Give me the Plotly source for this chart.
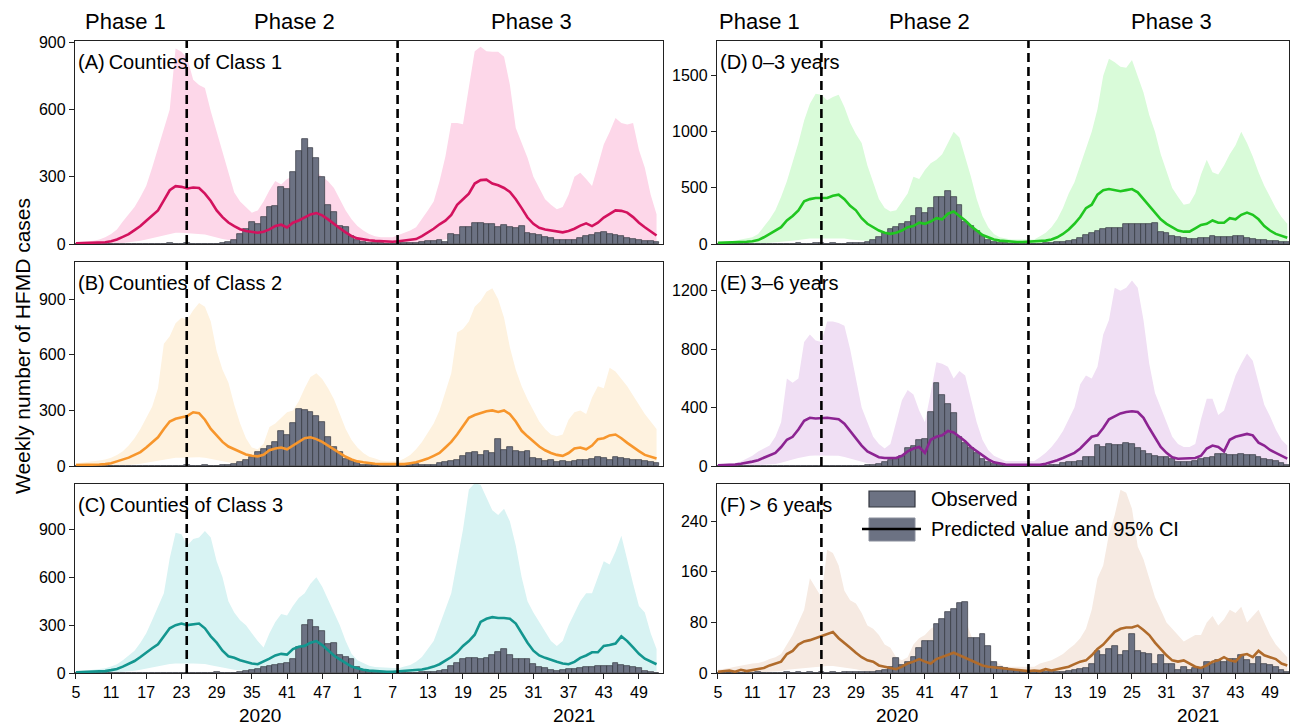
import plotly.graph_objects as go

# ---------------- data ----------------
# index 0 = 2020 week 5 ... index 47 = 2020 week 52, index 48 = 2021 week 1 ... index 99 = 2021 week 52
weeks_2020 = list(range(5, 53))
weeks_2021 = list(range(1, 53))
week_labels = [str(w) for w in weeks_2020] + [str(w) for w in weeks_2021]
idx = list(range(len(week_labels)))
tick_vals = list(range(0, 97, 6))
tick_text = [week_labels[i] for i in tick_vals]

# Panel A: Counties of Class 1
obs_A = [1,1,0,1,0,1,1,2,1,1, 2,1,2,1,2,2,3,2,2,3, 2,2,1,2,2,5,10,20,45,65,
         100,90,120,165,170,255,245,320,415,470, 430,385,300,175,145,80,75,35,20,10,
         6,4,3,2,2,3,5,4,6,8, 12,15,20,10,45,40,75,75,95,92,
         90,88,75,85,78,72,80,50,45,40, 30,25,20,18,18,20,28,35,42,50,
         52,45,40,35,28,22,18,15,12,8]
pred_A = [3,4,5,5,6,8,12,20,32,44, 62,80,104,125,150,195,240,258,255,248,
          252,250,225,192,150,120,96,80,66,58, 55,50,55,65,80,86,74,95,105,118,
          132,138,128,110,89,70,52,35,25,20, 17,14,12,10,10,12,15,18,22,35,
          50,68,88,104,130,175,200,225,270,285, 287,270,262,250,232,200,160,118,90,72,
          65,60,55,52,58,68,82,92,80,95, 118,135,150,148,140,120,95,75,55,38]
upper_A = [8,10,12,15,20,30,45,65,100,130, 165,210,260,340,430,518,600,873,858,829,
           733,710,696,592,503,414,330,230,190,163, 140,150,190,240,281,265,290,300,310,320,
           330,320,300,280,250,200,150,110,80,60, 45,35,30,30,30,40,50,60,75,110,
           150,190,280,390,540,540,535,700,860,880, 860,858,858,836,710,518,450,385,300,250,
           200,175,155,165,220,300,318,290,259,350, 444,500,562,540,533,540,420,340,220,133]
lower_A = [0,0,0,0,1,1,2,3,5,7, 10,14,20,26,32,40,45,50,50,48,
           48,47,42,36,28,22,18,14,12,10, 9,9,10,12,15,16,14,18,20,22,
           25,26,24,20,16,12,9,6,4,3, 3,2,2,2,2,2,3,3,4,6,
           9,12,16,20,25,33,38,42,50,52, 53,50,48,46,43,37,30,22,16,13,
           12,11,10,10,11,12,15,17,15,18, 22,25,28,27,26,22,18,14,10,7]

# Panel B: Counties of Class 2
obs_B = [1,1,1,1,1,1,1,1,1,1, 1,1,2,1,2,1,2,2,2,3, 2,2,3,2,2,3,5,12,20,35,
         50,75,90,110,130,190,165,230,310,300, 290,272,240,156,102,75,40,25,15,8,
         5,3,3,2,2,2,3,5,10,8, 5,8,15,20,25,35,55,70,75,60,
         80,70,145,85,100,80,75,80,45,40, 25,30,20,25,20,25,30,35,40,50,
         45,35,50,45,40,35,30,25,20,15]
pred_B = [5,5,6,7,8,10,15,25,35,45, 60,75,100,130,155,200,240,255,262,270,
          290,285,250,200,165,130,105,90,75,62, 55,52,60,85,95,100,90,110,130,150,
          155,145,130,110,90,70,50,35,25,20, 15,12,10,9,8,8,10,15,20,30,
          40,55,70,100,130,170,215,260,275,285, 295,300,292,300,280,240,190,160,130,105,
          85,70,60,55,70,95,100,90,110,145, 150,165,170,150,125,100,80,60,50,40]
upper_B = [15,18,22,26,30,35,45,60,80,110, 150,200,260,320,420,660,700,770,800,790,
           840,880,860,780,620,520,450,330,230,150, 100,90,120,210,230,260,290,300,350,420,
           480,500,470,420,360,280,200,140,100,70, 50,40,30,25,25,25,40,60,90,130,
           180,230,300,400,500,720,740,780,860,890, 940,960,900,800,640,520,430,360,300,240,
           200,170,160,170,250,290,300,280,370,430, 420,530,510,470,430,380,330,280,240,200]
lower_B = [0,0,0,0,1,1,2,3,4,6, 8,12,18,24,30,36,40,44,45,46,
           48,47,44,38,30,24,18,14,11,9, 8,8,9,12,14,15,14,16,19,22,
           23,22,20,17,14,11,8,5,4,3, 2,2,2,1,1,1,2,2,3,5,
           7,9,12,16,21,27,34,40,43,45, 46,47,46,47,44,38,30,25,20,16,
           13,11,9,9,11,15,16,14,17,22, 23,25,26,23,19,16,12,9,8,6]

# Panel C: Counties of Class 3
obs_C = [1,1,1,1,1,1,1,1,1,1, 1,1,1,2,1,1,2,1,2,1, 1,2,2,3,5,3,2,3,8,12,
         20,25,40,45,50,55,65,90,165,300, 335,290,265,180,190,115,100,90,35,15,
         8,5,3,2,2,2,2,2,3,4, 5,8,15,20,45,60,85,95,95,90,
         95,110,130,150,115,90,85,90,55,40, 30,20,15,20,25,25,30,35,40,42,
         42,45,60,48,45,35,30,15,5,3]
pred_C = [5,6,7,8,10,12,18,25,40,55, 75,100,130,155,180,230,280,300,310,300,
          305,310,280,230,190,140,105,95,80,70, 60,55,70,90,110,120,115,150,165,170,
          190,200,175,140,110,85,60,40,30,20, 15,12,10,8,8,10,12,15,18,22,
          30,40,55,75,100,130,170,200,240,320, 340,350,345,345,340,310,250,190,140,110,
          95,80,70,60,55,70,95,110,130,130, 170,175,185,230,200,160,120,90,70,55]
upper_C = [10,12,15,20,25,30,40,55,80,110, 140,190,250,330,420,500,720,880,870,800,
           840,850,890,850,700,600,450,380,330,300, 250,200,160,250,320,370,360,420,470,500,
           560,600,540,460,380,300,200,120,80,60, 45,38,35,32,30,30,40,50,70,100,
           150,200,300,400,500,700,900,1150,1190,1180, 1100,1020,990,1030,950,800,600,450,380,320,
           260,200,170,200,300,380,450,500,500,600, 700,680,760,860,700,560,420,380,250,150]
lower_C = [0,0,0,1,1,2,3,5,7,10, 14,20,28,35,42,50,56,60,62,60,
           60,60,56,48,40,32,24,20,16,13, 11,10,12,15,18,20,19,24,26,27,
           30,32,28,22,18,14,10,7,5,3, 2,2,2,1,1,1,2,2,3,4,
           5,7,10,13,18,24,30,36,42,55, 58,60,60,60,58,54,44,34,26,20,
           17,14,12,11,10,12,16,19,22,22, 28,30,32,38,34,28,21,16,12,10]

# Panel D: 0-3 years
obs_D = [2,2,2,2,3,2,3,2,3,3, 3,4,3,4,5,4,4,5,5,4, 5,4,4,5,6,8,20,40,65,100,
         130,150,175,195,250,320,280,320,420,420, 470,420,350,200,160,115,70,40,20,10,
         5,3,3,3,3,3,4,5,8,15, 20,30,40,50,80,100,120,130,140,145,
         145,175,180,175,180,175,190,110,100,70, 60,50,45,45,55,50,70,60,65,60,
         70,70,55,45,40,35,30,25,20,15]
pred_D = [10,11,12,15,18,20,25,35,60,90, 120,150,210,250,300,380,400,410,410,410,
          430,440,400,340,300,230,180,150,120,100, 90,100,120,150,160,190,180,200,230,220,
          270,290,250,210,160,120,80,60,40,30, 25,20,18,18,20,22,25,30,40,60,
          90,130,180,240,320,350,440,480,490,480, 470,480,490,460,400,330,270,220,180,150,
          120,110,110,140,170,180,210,190,190,230, 220,260,280,260,220,160,120,90,70,55]
upper_D = [15,18,22,30,40,50,60,90,150,220, 300,420,560,720,900,1100,1250,1340,1330,1280,
           1310,1330,1220,1080,980,900,700,550,400,320, 290,300,380,450,600,580,660,720,750,800,
           900,1000,950,780,600,400,250,150,90,60, 50,40,40,40,40,40,70,100,150,220,
           320,450,550,700,850,1000,1200,1500,1650,1620, 1580,1570,1640,1500,1350,1150,1000,800,650,500,
           420,350,360,450,620,750,640,620,700,800, 880,1000,900,780,640,520,420,320,240,180]
lower_D = [0,0,1,1,2,2,3,4,7,10, 14,18,25,30,36,45,48,50,50,50,
           52,53,48,40,36,28,22,18,14,12, 11,12,14,18,19,23,22,24,28,27,
           32,35,30,25,19,14,10,7,5,4, 3,2,2,2,2,3,3,4,5,7,
           11,16,22,29,38,42,53,58,59,58, 56,58,59,55,48,40,32,26,22,18,
           14,13,13,17,20,22,25,23,23,28, 26,31,34,31,26,19,14,11,8,7]

# Panel E: 3-6 years
obs_E = [2,2,2,2,2,2,2,2,2,2, 2,2,2,3,2,2,3,2,2,3, 2,2,2,2,3,3,5,8,15,25,
         40,50,70,120,140,175,185,370,570,485, 425,360,200,156,120,87,50,30,15,8,
         4,3,3,2,2,2,2,3,5,10, 20,25,30,35,60,65,145,130,150,145,
         145,160,150,120,100,80,70,65,60,45, 30,25,30,35,45,55,65,80,80,75,
         75,80,75,75,65,50,40,35,20,10]
pred_E = [5,6,8,10,15,20,30,40,55,70, 90,130,180,200,250,310,330,325,330,330,
          325,320,290,240,190,140,100,80,60,55, 55,55,70,100,120,130,90,180,200,210,
          240,230,200,170,130,100,70,45,25,15, 10,8,8,8,8,8,8,15,25,40,
          55,70,90,120,160,200,210,260,320,340, 360,370,375,370,330,260,190,130,90,60,
          50,50,55,55,70,120,140,130,100,180, 200,210,220,210,160,140,110,90,70,50]
upper_E = [10,14,18,20,30,50,70,100,120,140, 200,300,600,570,600,850,900,860,850,990,
           990,980,960,800,600,400,300,200,150,120, 150,300,450,520,490,380,300,500,710,700,
           680,600,650,620,450,300,180,110,70,50, 35,35,35,35,35,35,60,90,130,180,
           240,320,400,560,620,600,680,900,1000,1220, 1200,1220,1270,1220,1000,700,500,400,300,200,
           150,130,130,150,320,460,460,350,380,500, 620,700,770,720,560,420,340,250,180,140]
lower_E = [0,0,1,1,2,3,4,6,8,10, 14,22,35,45,55,65,70,72,72,72,
           70,70,62,50,38,26,18,14,10,9, 9,9,12,17,20,22,15,30,34,36,
           40,38,33,28,22,17,12,8,4,3, 2,2,2,2,2,2,2,3,4,7,
           10,13,17,22,30,38,40,50,60,65, 68,70,72,70,62,48,35,24,16,11,
           9,9,10,10,13,22,26,24,18,32, 36,38,40,38,29,25,20,16,12,9]

# Panel F: > 6 years
obs_F = [0,0,0,0,0,0,0,1,0,0, 0,0,1,0,1,0,1,0,2,0, 1,0,1,2,1,2,1,2,3,5,
         10,24,12,18,25,40,50,50,78,85, 96,102,110,112,55,55,61,42,18,10,
         8,5,3,2,1,1,1,1,1,2, 2,3,5,6,8,15,35,28,38,42,
         28,35,62,35,32,30,15,28,15,15, 5,10,5,8,8,18,15,20,18,22,
         22,28,20,15,25,15,12,10,5,2]
pred_F = [2,3,4,2,5,3,5,6,8,12, 15,18,30,35,45,50,52,55,58,62,
          65,55,48,40,32,25,20,18,12,10, 8,6,10,15,18,22,18,15,22,25,
          28,32,28,24,20,15,12,10,9,8, 6,5,4,3,3,4,3,6,4,6,
          8,10,14,18,20,28,38,45,55,65, 70,72,72,75,68,60,48,38,28,20,
          18,20,15,10,8,12,18,20,25,20, 18,28,30,25,35,28,25,22,15,12]
upper_F = [5,6,8,10,12,14,15,16,18,22, 25,30,45,60,80,100,150,135,120,195,
           190,170,130,115,110,95,75,70,60,45, 40,25,20,25,45,55,60,70,75,80,
           85,100,90,85,60,40,30,22,18,15, 10,10,10,10,10,10,15,18,20,25,
           30,38,45,55,70,100,150,170,220,250, 290,285,260,200,180,150,120,100,80,70,
           60,50,55,60,60,80,90,75,85,100, 95,105,80,90,100,80,60,45,35,25]
lower_F = [0,0,0,0,1,0,1,1,1,2, 2,3,5,6,7,8,9,10,10,11,
           11,10,8,7,6,4,3,3,2,2, 1,1,2,3,3,4,3,3,4,4,
           5,5,5,4,3,3,2,2,1,1, 1,1,1,0,0,1,0,1,1,1,
           1,2,2,3,3,5,6,8,9,11, 12,12,12,13,12,10,8,6,5,3,
           3,3,2,2,1,2,3,3,4,3, 3,5,5,4,6,5,4,4,3,2]

panel_letters = ["(A)", "(B)", "(C)", "(D)", "(E)", "(F)"]
panel_titles = ["Counties of Class 1", "Counties of Class 2", "Counties of Class 3",
                "0\u20133 years", "3\u20136 years", "> 6 years"]
y_ticks = [[0, 300, 600, 900], [0, 300, 600, 900], [0, 300, 600, 900],
           [0, 500, 1000, 1500], [0, 400, 800, 1200], [0, 80, 160, 240]]
y_max = [906, 1101, 1185, 1809, 1397, 299]
phase_names = ["Phase 1", "Phase 2", "Phase 3"]
year_names = ["2020", "2021"]

# ---------------- styling ----------------
W, H = 1290, 726
FONT = "Liberation Sans, Arial, Helvetica, sans-serif"
line_colors = ["#d3125e", "#f7962c", "#13968f", "#20c620", "#8c2492", "#b06b2b"]
fill_colors = ["#fdd7e9", "#fef2df", "#d8f3f3", "#d9fbd9", "#f0dff4", "#f6eae2"]
bar_color = "#6c7283"
bar_edge = "#33363f"

col_px = [(75, 663), (717, 1289)]
row_px = [(41, 244), (262, 466), (484, 673)]
x_ranges = [[-0.15, 100.1], [-0.15, 99.3]]
dash_pos = [[18.9, 54.85], [18.0, 54.0]]
phase_x = [[8.5, 37.2, 77.7], [7.3, 36.8, 78.9]]
year_x = [[31.4, 85.0], [31.2, 83.5]]

def px_x(p):
    return p / W

def px_y(p):
    return 1 - p / H

series = [
    (obs_A, pred_A, upper_A, lower_A),
    (obs_B, pred_B, upper_B, lower_B),
    (obs_C, pred_C, upper_C, lower_C),
    (obs_D, pred_D, upper_D, lower_D),
    (obs_E, pred_E, upper_E, lower_E),
    (obs_F, pred_F, upper_F, lower_F),
]

fig = go.Figure()
layout = dict(width=W, height=H, margin=dict(l=0, r=0, t=0, b=0, pad=0, autoexpand=False),
              paper_bgcolor="white", plot_bgcolor="white", showlegend=False,
              bargap=0, font=dict(family=FONT, size=16, color="black"))
shapes = []
annotations = []

for k in range(6):
    col = k // 3
    row = k % 3
    n = k + 1
    no = n + 6  # overlay y axis for bars and line (drawn above the CI band)
    xa = "x" if n == 1 else f"x{n}"
    ya = "y" if n == 1 else f"y{n}"
    yo = f"y{no}"
    obs, pred, up, lo = series[k]

    fig.add_trace(go.Scatter(x=idx, y=lo, mode="lines", line=dict(width=0, color=fill_colors[k]),
                             xaxis=xa, yaxis=ya, hoverinfo="skip"))
    fig.add_trace(go.Scatter(x=idx, y=up, mode="lines", line=dict(width=0, color=fill_colors[k]),
                             fill="tonexty", fillcolor=fill_colors[k], xaxis=xa, yaxis=ya, hoverinfo="skip"))
    fig.add_trace(go.Bar(x=idx, y=obs, width=1, marker=dict(color=bar_color, line=dict(color=bar_edge, width=0.7)),
                         xaxis=xa, yaxis=yo))
    fig.add_trace(go.Scatter(x=idx, y=pred, mode="lines", line=dict(width=2.6, color=line_colors[k]),
                             xaxis=xa, yaxis=yo))

    x0, x1 = col_px[col]
    y0, y1 = row_px[row]
    xkey = "xaxis" if n == 1 else f"xaxis{n}"
    ykey = "yaxis" if n == 1 else f"yaxis{n}"
    bottom = row == 2
    layout[xkey] = dict(domain=[px_x(x0), px_x(x1)], anchor=ya, range=x_ranges[col],
                        showgrid=False, zeroline=False, showline=True, mirror=True,
                        linecolor="#222222", linewidth=1.3, automargin=False,
                        tickmode="array", tickvals=tick_vals, ticktext=tick_text,
                        ticks="outside" if bottom else "", ticklen=5, tickcolor="#222222",
                        showticklabels=bottom, tickfont=dict(size=16, family=FONT))
    layout[ykey] = dict(domain=[px_y(y1), px_y(y0)], anchor=xa, range=[0, y_max[k]],
                        showgrid=False, zeroline=False, showline=True, mirror=True,
                        linecolor="#222222", linewidth=1.3, automargin=False,
                        tickmode="array", tickvals=y_ticks[k], ticks="outside", ticklen=5,
                        tickcolor="#222222", tickfont=dict(size=16, family=FONT))
    layout[f"yaxis{no}"] = dict(overlaying=ya, anchor=xa, range=[0, y_max[k]], visible=False,
                                showgrid=False, zeroline=False, automargin=False)

    for d in dash_pos[col]:
        shapes.append(dict(type="line", xref=xa, yref=f"{ya} domain", x0=d, x1=d, y0=0, y1=1,
                           line=dict(color="black", width=2.6, dash="9px,5px"), layer="above"))

    annotations.append(dict(x=px_x(x0 + 1), y=px_y(y0 + 21), xref="paper", yref="paper",
                            text=f"{panel_letters[k]}\u2009{panel_titles[k]}", showarrow=False,
                            xanchor="left", yanchor="middle", font=dict(size=20, family=FONT)))

    if row == 0:
        for name, px in zip(phase_names, phase_x[col]):
            annotations.append(dict(x=px, y=px_y(22), xref=xa, yref="paper", text=name,
                                    showarrow=False, xanchor="center", yanchor="middle",
                                    font=dict(size=22, family=FONT)))
    if bottom:
        for name, px in zip(year_names, year_x[col]):
            annotations.append(dict(x=px, y=px_y(715), xref=xa, yref="paper", text=name,
                                    showarrow=False, xanchor="center", yanchor="middle",
                                    font=dict(size=19, family=FONT)))

# y-axis title
annotations.append(dict(x=px_x(22), y=px_y(346), xref="paper", yref="paper",
                        text="Weekly number of HFMD cases", textangle=-90, showarrow=False,
                        xanchor="center", yanchor="middle", font=dict(size=21, family=FONT)))

# legend inside panel F
shapes.append(dict(type="rect", xref="paper", yref="paper", x0=px_x(869), x1=px_x(915),
                   y0=px_y(507), y1=px_y(491), fillcolor=bar_color, line=dict(color=bar_edge, width=1.2),
                   layer="above"))
shapes.append(dict(type="rect", xref="paper", yref="paper", x0=px_x(869), x1=px_x(915),
                   y0=px_y(541), y1=px_y(518), fillcolor=bar_color, line=dict(color="#8a8f9c", width=1),
                   layer="above"))
shapes.append(dict(type="line", xref="paper", yref="paper", x0=px_x(862), x1=px_x(921),
                   y0=px_y(529), y1=px_y(529), line=dict(color="black", width=2.6), layer="above"))
annotations.append(dict(x=px_x(929), y=px_y(499), xref="paper", yref="paper", text="Observed",
                        showarrow=False, xanchor="left", yanchor="middle", font=dict(size=20, family=FONT)))
annotations.append(dict(x=px_x(929), y=px_y(529), xref="paper", yref="paper",
                        text="Predicted value and 95% CI", showarrow=False, xanchor="left",
                        yanchor="middle", font=dict(size=20, family=FONT)))

layout["shapes"] = shapes
layout["annotations"] = annotations
fig.update_layout(**layout)
# remove the default 8px page margin so the 1290x726 figure fills the window exactly
fig.write_html("out.html", config={"displayModeBar": False},
               post_script="document.body.style.margin='0';")
